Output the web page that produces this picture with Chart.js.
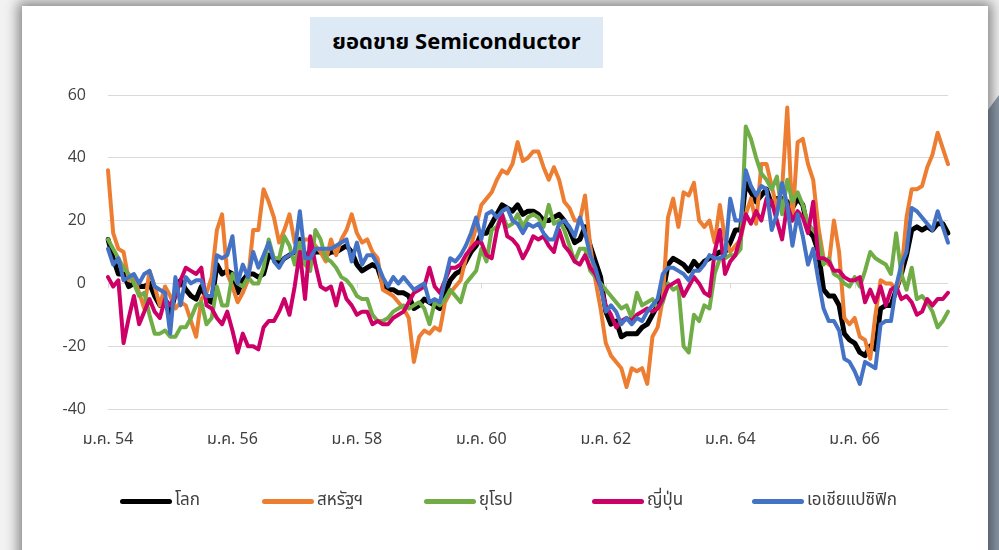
<!DOCTYPE html>
<html lang="th">
<head>
<meta charset="utf-8">
<title>ยอดขาย Semiconductor</title>
<script src="https://cdn.jsdelivr.net/npm/chart.js@4.4.1/dist/chart.umd.min.js"></script>
<style>
  html, body { margin: 0; padding: 0; }
  body {
    width: 999px; height: 550px; overflow: hidden; position: relative;
    background: #f2f2f2;
    font-family: Tahoma, "Leelawadee UI", "Noto Sans Thai", "Noto Sans", sans-serif;
  }
  #corner {
    position: absolute; left: 988px; top: 95px; width: 11px; height: 455px;
    background: #8a99a8;
    clip-path: polygon(100% 0, 100% 100%, 0 100%, 0 15px);
  }
  #panel {
    position: absolute; left: 22px; top: 6px; width: 966px; height: 620px;
    background: #fff;
    box-shadow: 0 0 12px 4px rgba(0, 0, 0, 0.45);
  }
  #chart { position: absolute; left: 0; top: 0; }
  #title {
    position: absolute; left: 310px; top: 17px; width: 293px; height: 51px;
    background: #dde9f5; color: #000;
    font-size: 22px; font-weight: bold;
    display: flex; align-items: center; justify-content: center;
  }
  .legend-line { position: absolute; height: 5px; width: 52px; border-radius: 3px; }
  .legend-text { position: absolute; font-size: 17px; color: #404040; line-height: 20px; }
</style>
</head>
<body>
<div id="corner"></div>
<div id="panel"></div>
<div id="title">ยอดขาย Semiconductor</div>
<canvas id="chart" width="999" height="550"></canvas>
<div id="legend"></div>
<script>
// --- DATA ---
const thaiMonths = ['ม.ค.', 'ก.พ.', 'มี.ค.', 'เม.ย.', 'พ.ค.', 'มิ.ย.', 'ก.ค.', 'ส.ค.', 'ก.ย.', 'ต.ค.', 'พ.ย.', 'ธ.ค.'];
const thaiYears = [54, 55, 56, 57, 58, 59, 60, 61, 62, 63, 64, 65, 66, 67];
const monthCount = 163; // ม.ค. 54 .. ก.ค. 67
const yTicks = [-40, -20, 0, 20, 40, 60];

const seriesNames = ['โลก', 'สหรัฐฯ', 'ยุโรป', 'ญี่ปุ่น', 'เอเชียแปซิฟิก'];

const world = [
  14, 8, 3, 3, -1, 0, -1, -1, 0, -4, -7, -6, -10, -3, 1, -2, -4, -5, -1, -5, -6, 6, 3, 4, 3, -3, 1,
  3, 3, 2, 3, 9, 8, 6, 8, 9, 10, 14, 9, 9, 10, 10, 9, 10, 10, 11, 12, 10, 6, 4, 5, 6, 5, 0,
  -2, -2, -3, -3, -4, -8, -7, -5, -6, -7, -8, -3, 1, 3, 4, 7, 10, 12, 16, 16, 19, 22, 25, 24, 23, 25, 22,
  23, 23, 22, 20, 20, 21, 22, 20, 17, 13, 14, 18, 12, 7, 2, -9, -13, -12, -17, -16, -16, -16, -14, -13, -10, -7, -3, 6,
  8, 7, 6, 4, 7, 5, 7, 8, 9, 10, 10, 13, 17, 17, 32, 29, 26, 28, 30, 25, 27, 27, 26, 24, 27, 25, 17,
  15, 10, -2, -4, -4, -7, -16, -18, -19, -22, -23, -20, -21, -8, -7, -7, -2, 3, 9, 17, 18, 17, 18, 17, 19, 19, 16
];
const usa = [
  36, 16, 11, 10, 1, 2, -3, -8, 4, -1, -7, -1, -4, -8, -6, -7, -12, -17, -5, -3, 2, 17, 22, 3, -1, -6, -3,
  1, 17, 17, 30, 26, 21, 13, 17, 22, 13, 12, 14, 14, 12, 10, 7, 14, 9, 14, 17, 22, 16, 13, 14, 10, 8, -2,
  -3, -4, -6, -8, -11, -25, -17, -15, -16, -14, -15, -6, -3, -1, 1, 8, 12, 18, 25, 27, 29, 33, 36, 35, 38, 45, 39,
  40, 42, 42, 37, 33, 37, 33, 26, 24, 20, 20, 28, 12, 1, -8, -19, -23, -25, -27, -33, -27, -28, -27, -32, -17, -14, -5, 21,
  27, 18, 29, 28, 32, 20, 18, 20, 13, 25, 14, 10, 12, 14, 22, 27, 19, 38, 38, 31, 24, 30, 56, 20, 45, 46, 38,
  33, 18, 8, 6, 20, 10, -11, -13, -11, -17, -18, -24, -10, 1, 0, 0, -2, 3, 21, 30, 30, 31, 37, 41, 48, 43, 38
];
const europe = [
  14, 11, 8, 5, 3, 0, -4, -3, -10, -16, -16, -15, -17, -17, -14, -14, -11, -7, -6, -13, -11, -1, -7, -7, 3, 0, -1,
  2, 0, 0, 5, 14, 8, 8, 15, 12, 6, 13, 6, 4, 17, 14, 8, 7, 5, 2, 1, -1, -4, -5, -5, -10, -12, -12,
  -11, -9, -8, -7, -8, -7, -6, -8, -13, -6, -7, -5, -2, -4, -6, 0, 2, 4, 11, 7, 17, 18, 22, 18, 19, 22, 18,
  21, 22, 21, 18, 25, 19, 20, 17, 12, 7, 11, 11, 4, 2, 0, -2, -4, -6, -8, -7, -11, -3, -7, -6, -5, -8, -6, 0,
  -2, -1, -20, -22, -10, -12, -7, -8, 3, 8, 8, 9, 9, 11, 50, 46, 40, 35, 33, 30, 34, 22, 33, 26, 29, 25, 19,
  17, 15, 6, 8, 3, 2, 0, -1, 2, -1, 4, 10, 8, 7, 6, 3, 16, 3, -2, 5, -5, -4, -6, -9, -14, -12, -9
];
const japan = [
  2, -1, 1, -19, -11, -4, -13, -9, -5, -9, -11, -5, -7, -4, 1, 5, 4, 3, 5, -7, -8, -11, -13, -9, -15, -22, -16,
  -20, -20, -21, -14, -12, -12, -9, -5, -10, -1, 10, -5, 15, 6, -1, -2, -1, -7, 0, -5, -7, -10, -9, -9, -13, -12, -13,
  -13, -11, -10, -9, -6, -3, -2, -1, 5, -1, -3, 1, 5, 5, 6, 9, 11, 13, 13, 9, 8, 17, 22, 15, 14, 12, 8,
  11, 15, 14, 15, 12, 10, 17, 12, 10, 7, 6, 9, 5, 3, -1, -7, -10, -14, -12, -11, -12, -10, -9, -8, -9, -8, -5, -1,
  0, 1, -4, -1, 2, 0, -3, -4, 10, 17, 3, 7, 9, 15, 22, 19, 23, 20, 27, 26, 20, 14, 25, 20, 23, 21, 16,
  26, 8, 8, 7, 4, 4, 2, 1, 1, 2, -6, -2, -6, -1, -7, -2, -1, -5, -4, -6, -10, -9, -5, -7, -5, -5, -3
];
const asiaPacific = [
  11, 6, 8, 1, 2, 3, 0, 3, 4, -1, -2, -3, -16, 2, -7, 2, 0, 1, 1, -4, -4, 9, 8, 9, 15, 0, 6,
  2, 10, 5, 9, 13, 7, 5, 8, 9, 10, 23, 8, 8, 11, 11, 11, 11, 12, 13, 14, 7, 13, 6, 9, 9, 6, 2,
  -1, 2, 0, 2, 0, -2, -1, 0, -6, -5, -6, 1, 8, 7, 9, 12, 16, 21, 14, 22, 23, 21, 23, 24, 20, 19, 16,
  19, 18, 19, 16, 14, 14, 19, 20, 18, 15, 21, 16, 9, 5, -1, -9, -7, -9, -13, -11, -13, -11, -12, -9, -7, -5, 3, 5,
  5, 4, 3, 1, 4, 4, 6, 9, 8, 8, 9, 27, 20, 20, 36, 31, 28, 31, 30, 17, 22, 32, 25, 12, 22, 15, 6,
  11, 1, -8, -12, -12, -15, -24, -25, -28, -32, -25, -26, -27, -13, -12, -12, -1, 6, 10, 24, 23, 21, 19, 17, 23, 18, 13
];

// --- STYLE ---
const FONT = 'Tahoma, "Leelawadee UI", "Noto Sans Thai", "Noto Sans", sans-serif';
const seriesColors = ['#000000', '#ed7d31', '#70ad47', '#cc0066', '#4472c4'];
const seriesWidths = [5, 4, 4, 4, 4];
const legendLeft = [120, 262, 424, 592, 752];

// month labels, e.g. "ม.ค. 54"
const labels = [];
thaiYears.forEach(y => thaiMonths.forEach(m => {
  if (labels.length < monthCount) labels.push(m + ' ' + y);
}));

const allSeries = [world, usa, europe, japan, asiaPacific];

// small tick marks on the zero line under the yearly labels
const zeroTicks = {
  id: 'zeroTicks',
  beforeDatasetsDraw(chart) {
    const { ctx, scales: { x, y } } = chart;
    const y0 = y.getPixelForValue(0);
    ctx.save();
    ctx.strokeStyle = '#d9d9d9';
    ctx.lineWidth = 1;
    labels.forEach((l, i) => {
      if (i % 24 !== 0) return;
      const px = Math.round(x.getPixelForValue(i)) + 0.5;
      ctx.beginPath();
      ctx.moveTo(px, y0);
      ctx.lineTo(px, y0 + 5);
      ctx.stroke();
    });
    ctx.restore();
  }
};

new Chart(document.getElementById('chart'), {
  type: 'line',
  data: {
    labels: labels,
    datasets: allSeries.map((data, i) => ({
      label: seriesNames[i],
      data: data,
      borderColor: seriesColors[i],
      backgroundColor: seriesColors[i],
      borderWidth: seriesWidths[i],
      borderJoinStyle: 'round',
      borderCapStyle: 'round',
      pointRadius: 0,
      tension: 0,
      fill: false,
      order: allSeries.length - i
    }))
  },
  options: {
    responsive: false,
    animation: false,
    events: [],
    // y axis box is 60px wide so the "-40" labels are not clipped
    layout: { padding: { left: 48, right: 51, top: 95, bottom: 101 } },
    plugins: { legend: { display: false }, tooltip: { enabled: false }, title: { display: false } },
    scales: {
      x: {
        grid: { display: false, drawTicks: false },
        border: { display: false },
        ticks: {
          autoSkip: false, maxRotation: 0, minRotation: 0, padding: 22,
          color: '#404040', font: { size: 16, family: FONT },
          callback: function (value, index) { return index % 24 === 0 ? labels[index] : null; }
        },
        afterFit: s => { s.height = 40; }
      },
      y: {
        min: yTicks[0], max: yTicks[yTicks.length - 1],
        afterBuildTicks: s => { s.ticks = yTicks.map(v => ({ value: v })); },
        grid: { color: '#d9d9d9', lineWidth: 1, drawTicks: false },
        border: { display: false },
        ticks: {
          padding: 22, color: '#404040', font: { size: 16, family: '"Open Sans", "Noto Sans", sans-serif' },
          callback: v => String(v)
        },
        afterFit: s => { s.width = 60; }
      }
    }
  },
  plugins: [zeroTicks]
});

// --- LEGEND ---
const legend = document.getElementById('legend');
seriesNames.forEach((name, i) => {
  const line = document.createElement('div');
  line.className = 'legend-line';
  line.style.left = legendLeft[i] + 'px';
  line.style.top = '499px';
  line.style.background = seriesColors[i];
  legend.appendChild(line);
  const text = document.createElement('div');
  text.className = 'legend-text';
  text.style.left = (legendLeft[i] + 55) + 'px';
  text.style.top = '490px';
  text.textContent = name;
  legend.appendChild(text);
});
</script>
</body>
</html>
